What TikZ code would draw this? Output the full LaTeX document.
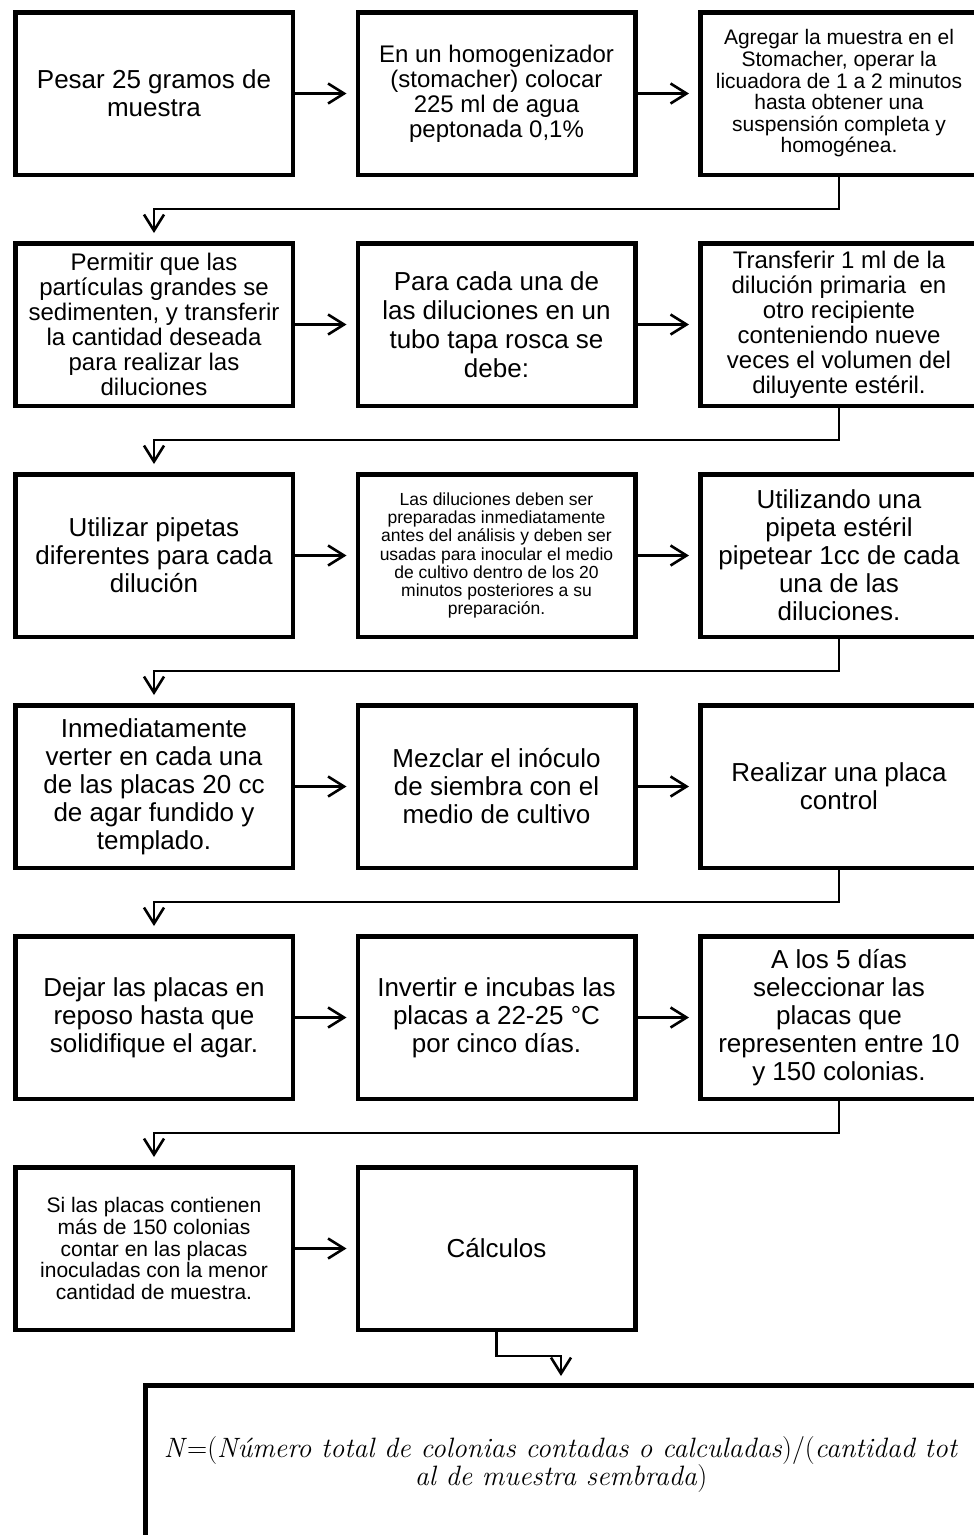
\documentclass[tikz,border=0pt]{standalone}
\usepackage{fontspec}
\setmainfont{Liberation Sans}
\newfontfamily\formfont{Latin Modern Roman}
\usetikzlibrary{arrows.meta, positioning}
\tikzset{
	stepbox/.style={rectangle, draw=black, line width=4.5pt, fill=white, align=center, minimum width=277.5pt, minimum height=162.5pt, inner sep=0pt, font=\fontsize{26}{28}\selectfont},
	midtxt/.style={font=\fontsize{24}{25}\selectfont},
	smalltxt/.style={font=\fontsize{21}{21.6}\selectfont},
	tinytxt/.style={font=\fontsize{17.5}{18.3}\selectfont},
	formbox/.style={rectangle, draw=black, line width=4.5pt, fill=white, align=center, minimum width=831.5pt, minimum height=157.5pt, inner sep=0pt, font=\formfont\fontsize{28}{28}\selectfont},
	arrow/.style={-{Straight Barb[length=16pt, width=20pt]}, line width=2.6pt, draw=black, shorten >=9pt},
	link/.style={-{Straight Barb[length=16pt, width=20pt]}, line width=2.6pt, draw=black, shorten >=8pt},
}
\begin{document}
\begin{tikzpicture}[x=1pt, y=1pt, node distance=64pt and 60.5pt]
		\useasboundingbox (0,0) rectangle (974,-1535);
		\node[stepbox] (pesar) at (154,-93.5) {Pesar 25 gramos de\\muestra};
		\node[stepbox, midtxt, right=of pesar] (homog) {En un homogenizador\\(stomacher) colocar\\225 ml de agua\\peptonada 0,1\%};
		\node[stepbox, smalltxt, right=of homog] (agregar) {Agregar la muestra en el\\Stomacher, operar la\\licuadora de 1 a 2 minutos\\hasta obtener una\\suspensión completa y\\homogénea.};
		\node[stepbox, midtxt, below=of pesar] (permitir) {Permitir que las\\partículas grandes se\\sedimenten, y transferir\\la cantidad deseada\\para realizar las\\diluciones};
		\node[stepbox, font=\fontsize{26}{29}\selectfont, right=of permitir] (cada) {Para cada una de\\las diluciones en un\\tubo tapa rosca se\\debe:};
		\node[stepbox, midtxt, right=of cada] (transf) {Transferir 1 ml de la\\dilución primaria~ en\\otro recipiente\\conteniendo nueve\\veces el volumen del\\diluyente estéril.};
		\node[stepbox, below=of permitir] (pipetas) {Utilizar pipetas\\diferentes para cada\\dilución};
		\node[stepbox, tinytxt, right=of pipetas] (prep) {Las diluciones deben ser\\preparadas inmediatamente\\antes del análisis y deben ser\\usadas para inocular el medio\\de cultivo dentro de los 20\\minutos posteriores a su\\preparación.};
		\node[stepbox, right=of prep] (util) {Utilizando una\\pipeta estéril\\pipetear 1cc de cada\\una de las\\diluciones.};
		\node[stepbox, below=of pipetas] (verter) {Inmediatamente\\verter en cada una\\de las placas 20 cc\\de agar fundido y\\templado.};
		\node[stepbox, right=of verter] (mezclar) {Mezclar el inóculo\\de siembra con el\\medio de cultivo};
		\node[stepbox, right=of mezclar] (control) {Realizar una placa\\control};
		\node[stepbox, below=of verter] (dejar) {Dejar las placas en\\reposo hasta que\\solidifique el agar.};
		\node[stepbox, right=of dejar] (invert) {Invertir e incubas las\\placas a 22-25 °C\\por cinco días.};
		\node[stepbox, right=of invert] (selec) {A los 5 días\\seleccionar las\\placas que\\representen entre 10\\y 150 colonias.};
		\node[stepbox, smalltxt, below=of dejar] (contar) {Si las placas contienen\\más de 150 colonias\\contar en las placas\\inoculadas con la menor\\cantidad de muestra.};
		\node[stepbox, right=of contar] (calc) {Cálculos};
		\node[formbox] (formula) at (561,-1464) {\textit{N}=(\textit{Número total de colonias contadas o calculadas})/(\textit{cantidad tot}\\\textit{al de muestra sembrada})};
		\draw[arrow] (pesar) -- (homog);
		\draw[arrow] (homog) -- (agregar);
		\draw[arrow] (permitir) -- (cada);
		\draw[arrow] (cada) -- (transf);
		\draw[arrow] (pipetas) -- (prep);
		\draw[arrow] (prep) -- (util);
		\draw[arrow] (verter) -- (mezclar);
		\draw[arrow] (mezclar) -- (control);
		\draw[arrow] (dejar) -- (invert);
		\draw[arrow] (invert) -- (selec);
		\draw[arrow] (contar) -- (calc);
		\draw[link] (agregar.south) -- ++(0,-32) -| (permitir.north);
		\draw[link] (transf.south) -- ++(0,-32) -| (pipetas.north);
		\draw[link] (util.south) -- ++(0,-32) -| (verter.north);
		\draw[link] (control.south) -- ++(0,-32) -| (dejar.north);
		\draw[link] (selec.south) -- ++(0,-32) -| (contar.north);
		\draw[link, shorten >=7pt] (calc.south) -- ++(0,-24) -| (formula.north);
	\end{tikzpicture}
\end{document}
